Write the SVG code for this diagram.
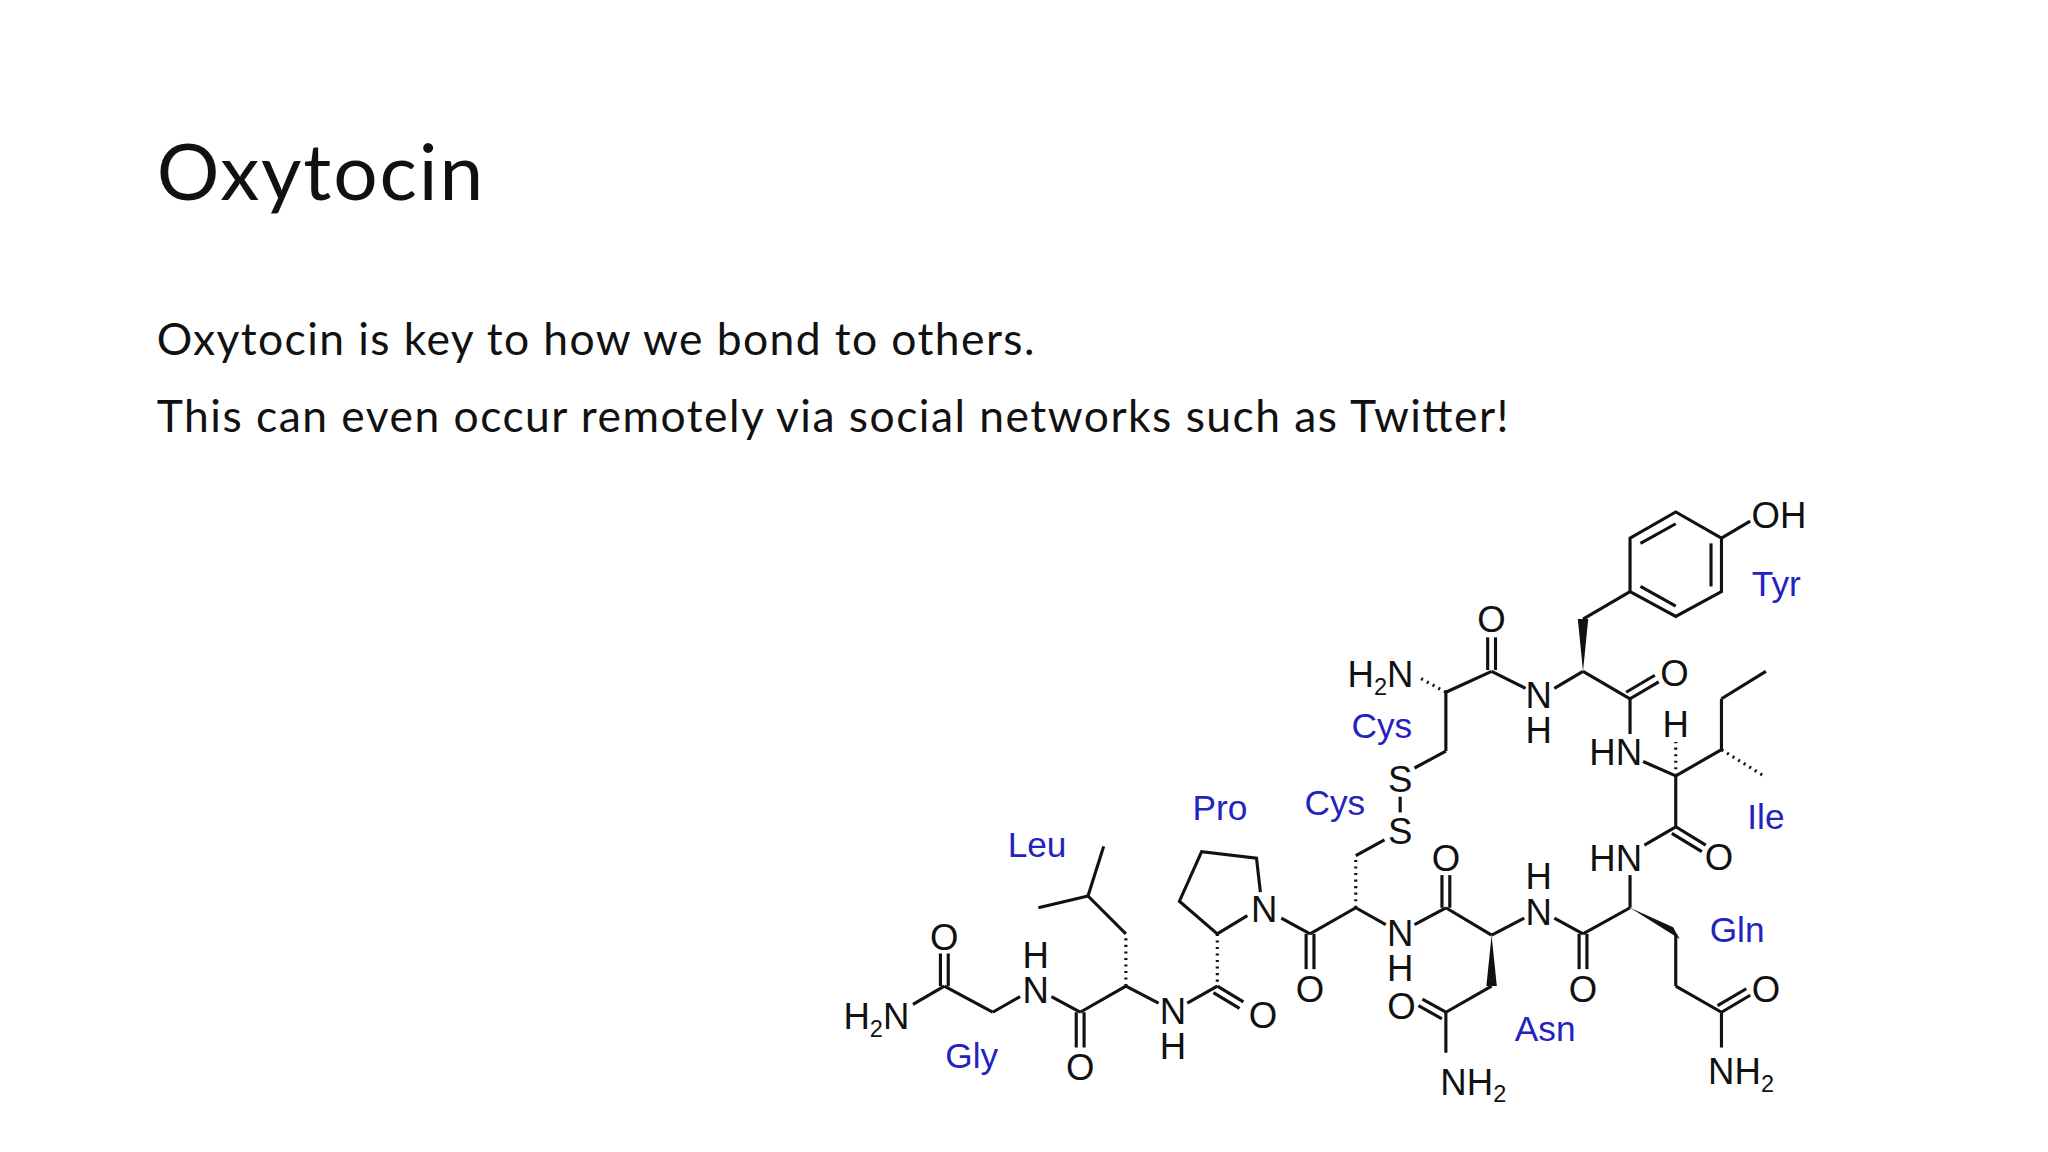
<svg xmlns="http://www.w3.org/2000/svg" width="2048" height="1152" viewBox="0 0 2048 1152">
<style>
.t{font-family:Lato,"Open Sans",sans-serif;fill:#111}
.a{font-family:"Liberation Sans",Arial,sans-serif;font-size:28px;fill:#111;text-anchor:middle}
.s{font-size:18px}
.l{font-family:"Liberation Sans",Arial,sans-serif;font-size:27px;fill:#2323c0;text-anchor:middle}
.b line,.b path{stroke:#111;stroke-width:2.4;fill:none}
.h{stroke:#111;stroke-width:6;stroke-dasharray:1.6 3.4;fill:none}
.w{fill:#111}
</style>
<rect width="2048" height="1152" fill="#fff"/>
<g transform="scale(1.30612)">
<g id="title"><text class="t" x="120" y="153" font-size="60" textLength="250">Oxytocin</text></g>
<g id="body">
<text class="t" x="120" y="272" font-size="34" textLength="672">Oxytocin is key to how we bond to others.</text>
<text class="t" x="120" y="331" font-size="34" textLength="1035">This can even occur remotely via social networks such as Twitter!</text>
</g>
<g id="bonds" class="b">
<line x1="1107" y1="530" x2="1142" y2="514"/>
<line x1="1139" y1="488" x2="1139" y2="513"/><line x1="1145" y1="488" x2="1145" y2="513"/>
<line x1="1142" y1="514" x2="1168" y2="527"/>
<line x1="1190" y1="527" x2="1212" y2="514"/>
<line x1="1212" y1="474" x2="1248" y2="453"/>
<path d="M1248 453 L1248 412 L1283 392 L1318 412 L1318 453 L1283 472 Z"/>
<line x1="1256" y1="416" x2="1283" y2="401"/><line x1="1310" y1="416" x2="1310" y2="449"/><line x1="1256" y1="449" x2="1283" y2="464"/>
<line x1="1318" y1="412" x2="1340" y2="399"/>
<line x1="1212" y1="514" x2="1248" y2="535"/>
<line x1="1248" y1="535" x2="1270" y2="522"/><line x1="1245" y1="530" x2="1267" y2="517"/>
<line x1="1248" y1="535" x2="1248" y2="562"/>
<line x1="1258" y1="583" x2="1283" y2="594"/>
<line x1="1283" y1="594" x2="1318" y2="574"/>
<line x1="1318" y1="574" x2="1318" y2="535"/>
<line x1="1318" y1="535" x2="1352" y2="514"/>
<line x1="1283" y1="594" x2="1283" y2="633"/>
<line x1="1283" y1="633" x2="1306" y2="647"/><line x1="1280" y1="638" x2="1303" y2="652"/>
<line x1="1283" y1="633" x2="1259" y2="647"/>
<line x1="1248" y1="670" x2="1248" y2="695"/>
<line x1="1283" y1="715" x2="1283" y2="755"/>
<line x1="1283" y1="755" x2="1318" y2="775"/>
<line x1="1318" y1="775" x2="1340" y2="762"/><line x1="1315" y1="770" x2="1337" y2="757"/>
<line x1="1318" y1="775" x2="1318" y2="802"/>
<line x1="1248" y1="695" x2="1212" y2="715"/>
<line x1="1209" y1="715" x2="1209" y2="742"/><line x1="1215" y1="715" x2="1215" y2="742"/>
<line x1="1212" y1="715" x2="1190" y2="703"/>
<line x1="1167" y1="703" x2="1142" y2="716"/>
<line x1="1142" y1="755" x2="1107" y2="775"/>
<line x1="1107" y1="775" x2="1089" y2="765"/><line x1="1104" y1="780" x2="1086" y2="770"/>
<line x1="1107" y1="775" x2="1107" y2="806"/>
<line x1="1142" y1="716" x2="1107" y2="695"/>
<line x1="1104" y1="670" x2="1104" y2="695"/><line x1="1110" y1="670" x2="1110" y2="695"/>
<line x1="1107" y1="695" x2="1083" y2="708"/>
<line x1="1061" y1="708" x2="1038" y2="695"/>
<line x1="1038" y1="655" x2="1060" y2="643"/>
<line x1="1072" y1="610" x2="1072" y2="622"/>
<line x1="1083" y1="588" x2="1107" y2="575"/>
<line x1="1107" y1="575" x2="1107" y2="530"/>
<line x1="1038" y1="695" x2="1003" y2="715"/>
<line x1="1000" y1="715" x2="1000" y2="742"/><line x1="1006" y1="715" x2="1006" y2="742"/>
<line x1="1003" y1="715" x2="981" y2="703"/>
<path d="M965 683 L962 657 L920 652 L903 690 L932 715 L955 701"/>
<line x1="932" y1="755" x2="952" y2="767"/><line x1="929" y1="760" x2="949" y2="772"/>
<line x1="932" y1="755" x2="909" y2="768"/>
<line x1="887" y1="768" x2="862" y2="755"/>
<line x1="862" y1="715" x2="833" y2="686"/>
<line x1="833" y1="686" x2="845" y2="648"/>
<line x1="833" y1="686" x2="795" y2="695"/>
<line x1="862" y1="755" x2="827" y2="775"/>
<line x1="824" y1="775" x2="824" y2="802"/><line x1="830" y1="775" x2="830" y2="802"/>
<line x1="827" y1="775" x2="805" y2="763"/>
<line x1="781" y1="763" x2="760" y2="775"/>
<line x1="760" y1="775" x2="723" y2="755"/>
<line x1="720" y1="730" x2="720" y2="755"/><line x1="726" y1="730" x2="726" y2="755"/>
<line x1="723" y1="755" x2="699" y2="769"/>
<polygon class="w" points="1212,514 1208,474 1216,474"/>
<polygon class="w" points="1248,695 1281,710 1286,719"/>
<polygon class="w" points="1142,716 1138,755 1146,755"/>
<line class="h" x1="1107" y1="530" x2="1085" y2="518"/>
<line class="h" x1="1283" y1="594" x2="1283" y2="568"/>
<line class="h" x1="1318" y1="574" x2="1352" y2="595"/>
<line class="h" x1="1038" y1="695" x2="1038" y2="655"/>
<line class="h" x1="932" y1="715" x2="932" y2="755"/>
<line class="h" x1="862" y1="755" x2="862" y2="715"/>
</g>
<g id="atoms">
<text class="a" x="1057" y="526">H<tspan class="s" dy="6">2</tspan><tspan dy="-6">N</tspan></text>
<text class="a" x="1142" y="484">O</text>
<text class="a" x="1178" y="542">N</text><text class="a" x="1178" y="569">H</text>
<text class="a" x="1362" y="404">OH</text>
<text class="a" x="1282" y="525">O</text>
<text class="a" x="1237" y="586">HN</text>
<text class="a" x="1283" y="564">H</text>
<text class="a" x="1316" y="666">O</text>
<text class="a" x="1237" y="667">HN</text>
<text class="a" x="1352" y="767">O</text>
<text class="a" x="1333" y="830">NH<tspan class="s" dy="6">2</tspan></text>
<text class="a" x="1212" y="767">O</text>
<text class="a" x="1178" y="708">N</text><text class="a" x="1178" y="681">H</text>
<text class="a" x="1073" y="780">O</text>
<text class="a" x="1128" y="838">NH<tspan class="s" dy="6">2</tspan></text>
<text class="a" x="1107" y="667">O</text>
<text class="a" x="1072" y="724">N</text><text class="a" x="1072" y="751">H</text>
<text class="a" x="1072" y="646">S</text>
<text class="a" x="1072" y="606">S</text>
<text class="a" x="1003" y="767">O</text>
<text class="a" x="968" y="706">N</text>
<text class="a" x="967" y="787">O</text>
<text class="a" x="898" y="784">N</text><text class="a" x="898" y="811">H</text>
<text class="a" x="827" y="827">O</text>
<text class="a" x="793" y="768">N</text><text class="a" x="793" y="741">H</text>
<text class="a" x="723" y="727">O</text>
<text class="a" x="671" y="788">H<tspan class="s" dy="6">2</tspan><tspan dy="-6">N</tspan></text>
</g>
<g id="labels">
<text class="l" x="1360" y="456">Tyr</text>
<text class="l" x="1058" y="565">Cys</text>
<text class="l" x="1022" y="624">Cys</text>
<text class="l" x="1352" y="635">Ile</text>
<text class="l" x="1330" y="721">Gln</text>
<text class="l" x="1183" y="797">Asn</text>
<text class="l" x="934" y="628">Pro</text>
<text class="l" x="794" y="656">Leu</text>
<text class="l" x="744" y="818">Gly</text>
</g>
</g>
</svg>
